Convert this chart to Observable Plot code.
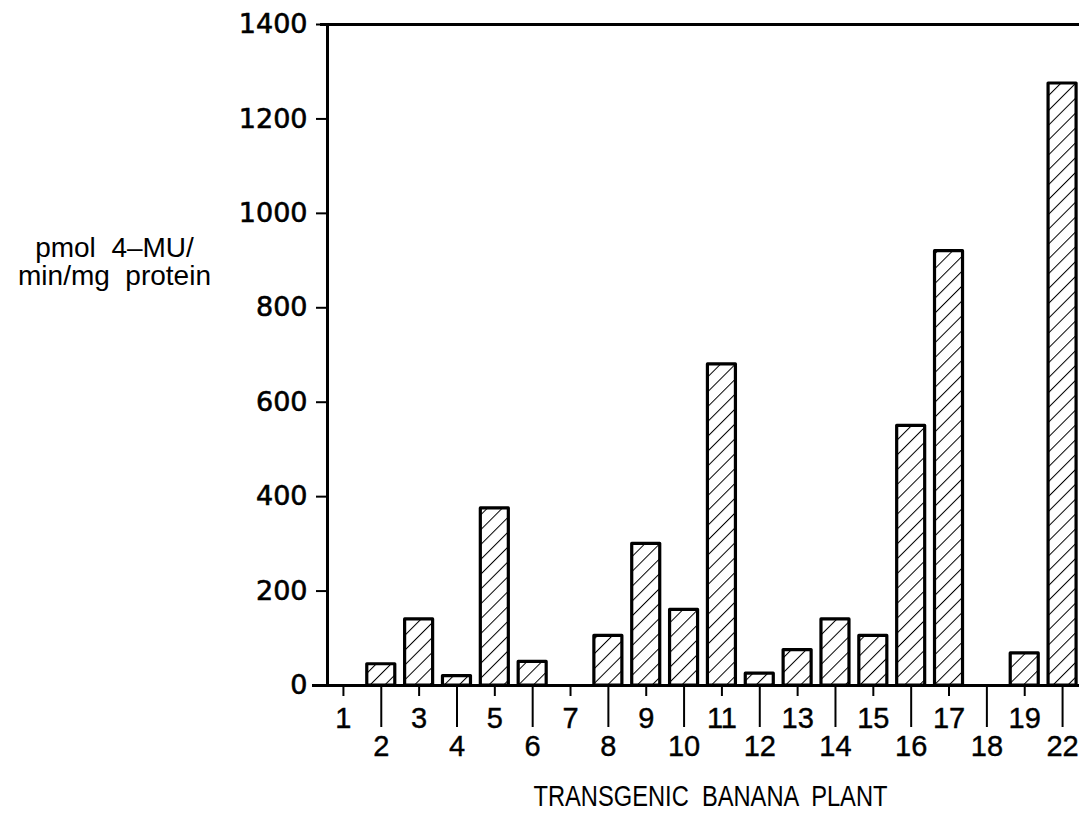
<!DOCTYPE html>
<html>
<head>
<meta charset="utf-8">
<script src="https://cdn.jsdelivr.net/npm/d3@7"></script>
<script src="https://cdn.jsdelivr.net/npm/@observablehq/plot@0.6"></script>
<style>
html, body { margin: 0; padding: 0; background: #fff; }
g[aria-label="y-axis tick label"] text { stroke: black; stroke-width: 0.6px; }
g[aria-label="x-axis tick label"] text { stroke: black; stroke-width: 0.4px; }
</style>
</head>
<body>
<div id="chart"></div>
<script>
const plants = ["1","2","3","4","5","6","7","8","9","10","11","12","13","14","15","16","17","18","19","22"];
const activity = [0, 45, 140, 20, 375, 50, 0, 105, 300, 160, 680, 25, 75, 140, 105, 550, 920, 0, 68, 1275];
const yTicks = [0, 200, 400, 600, 800, 1000, 1200, 1400];
const yLabelLines = ["pmol  4–MU/", "min/mg  protein"];
const xTitle = "TRANSGENIC  BANANA  PLANT";

const data = plants.map((p, i) => ({plant: p, value: activity[i]}));
const upperRow = plants.filter((p, i) => i % 2 === 0);
const lowerRow = plants.filter((p, i) => i % 2 === 1);

const chart = Plot.plot({
  width: 1079,
  height: 814,
  marginTop: 24,
  marginBottom: 129,
  marginLeft: 327,
  marginRight: 0,
  style: {background: "white", color: "black", fontFamily: "'Liberation Sans', Arial, sans-serif"},
  x: {type: "band", domain: plants, range: [324, 1081], paddingInner: 0.26, paddingOuter: 0.13, round: false},
  y: {domain: [0, 1400], range: [685, 24]},
  marks: [
    Plot.barY(data, {filter: d => d.value > 0, x: "plant", y: "value", fill: "url(#hatch)", stroke: "black", strokeWidth: 3.2, strokeLinejoin: "round"}),
    Plot.ruleY([0], {stroke: "black", strokeWidth: 3, insetLeft: -15}),
    Plot.ruleY([1400], {stroke: "black", strokeWidth: 3, insetLeft: -7}),
    Plot.frame({anchor: "left", stroke: "black", strokeWidth: 3}),
    Plot.axisY({ticks: yTicks, tickSize: 11, tickPadding: 9, fontSize: 27, fontFamily: "'DejaVu Sans', sans-serif", tickFormat: d => String(d), strokeWidth: 2, label: null}),
    Plot.axisX({ticks: upperRow, tickSize: 11, tickPadding: 11, fontSize: 29, strokeWidth: 2, label: null}),
    Plot.axisX({ticks: lowerRow, tickSize: 42, tickPadding: 8, fontSize: 29, strokeWidth: 2, label: null}),
    Plot.text([yLabelLines.join("\n")], {frameAnchor: "top-left", dx: -213, dy: 213, textAnchor: "middle", lineAnchor: "top", fontSize: 28, lineHeight: 1.0}),
    Plot.text([xTitle], {frameAnchor: "bottom", dx: 7, dy: 100, lineAnchor: "top", fontSize: 29})
  ]
});

const defs = d3.select(chart).insert("defs", ":first-child");
const pat = defs.append("pattern")
  .attr("id", "hatch")
  .attr("patternUnits", "userSpaceOnUse")
  .attr("width", 10.5)
  .attr("height", 10.5)
  .attr("patternTransform", "rotate(45)");
pat.append("rect").attr("width", 10.5).attr("height", 10.5).attr("fill", "white");
pat.append("line").attr("x1", 0).attr("y1", -1).attr("x2", 0).attr("y2", 11.5).attr("stroke", "black").attr("stroke-width", 2);

// condense the x-axis title to the reference's narrow lettering
d3.select(chart).selectAll("text").filter(function() { return this.textContent === xTitle; })
  .attr("textLength", 354).attr("lengthAdjust", "spacingAndGlyphs");

document.getElementById("chart").appendChild(chart);
</script>
</body>
</html>
